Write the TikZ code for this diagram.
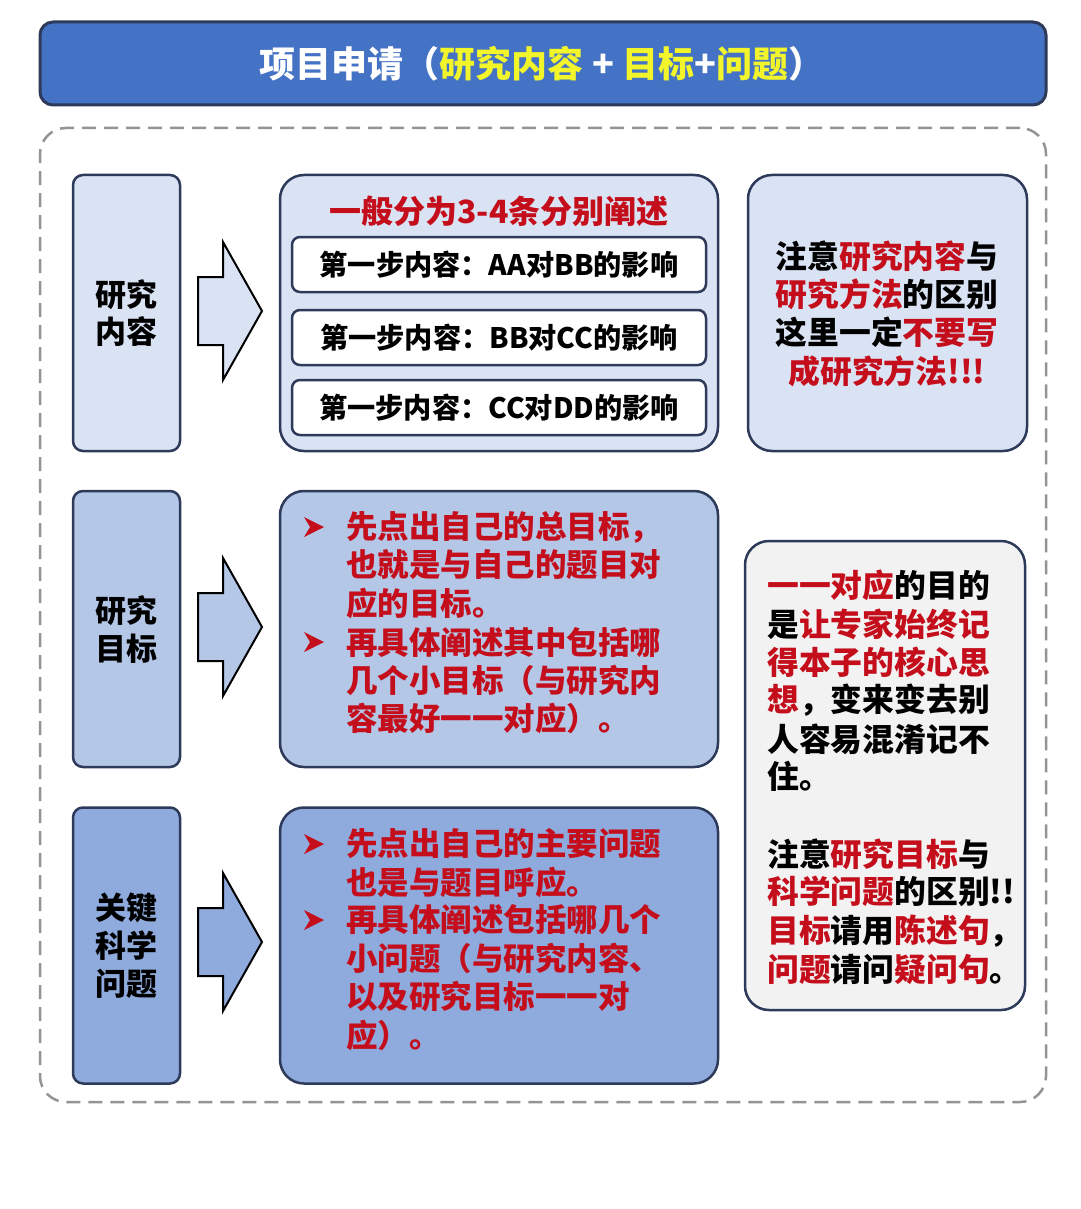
\documentclass[tikz,border=0pt]{standalone}
\usepackage{fontspec}
\setmainfont{Noto Sans CJK SC}
\definecolor{bordc}{HTML}{2E3A59}
\definecolor{redc}{RGB}{196,14,28}
\definecolor{yel}{HTML}{F2F52A}
\definecolor{titlec}{HTML}{4472C4}
\definecolor{cA}{HTML}{DAE3F3}
\definecolor{cB}{HTML}{B4C7E7}
\definecolor{cC}{HTML}{8FAADC}
\definecolor{cG}{HTML}{F2F2F2}
\newcommand{\R}[1]{\textcolor{redc}{#1}}
\tikzset{
  bd/.style={draw=bordc, line width=2.5pt},
  lbox/.style={bd, rounded corners=10pt, minimum width=107pt, minimum height=276pt, inner sep=0pt},
  mbox/.style={bd, rounded corners=24pt, minimum width=438pt, minimum height=276pt, inner sep=0pt},
  wbox/.style={bd, fill=white, rounded corners=8pt, minimum width=414pt, minimum height=55pt, inner sep=0pt},
  blockarrow/.style={draw=black, line width=2pt, line join=miter},
  tx/.style={inner sep=0pt, font=\fontsize{31}{31}\selectfont\bfseries},
  txr/.style={inner sep=0pt, font=\fontsize{31.8}{31.8}\selectfont\bfseries},
  txm/.style={inner sep=0pt, anchor=west, text=redc, font=\fontsize{31.5}{31.5}\selectfont\bfseries},
  txw/.style={inner sep=0pt, font=\fontsize{28.2}{28.2}\selectfont\bfseries},
  bul/.style={fill=redc}
}
\begin{document}
\begin{tikzpicture}[x=1pt,y=-1pt]
\useasboundingbox (0,0) rectangle (1080,1209);
\fill[white] (0,0) rectangle (1080,1209);

% title bar
\node[draw=bordc, line width=3pt, fill=titlec, rounded corners=13pt, minimum width=1006pt, minimum height=83pt, inner sep=0pt] (title) at (543,63.5) {};
\node[inner sep=0pt, font=\fontsize{36}{36}\selectfont\bfseries, text=white] (titletext) at (542,64)
  {项目申请（\textcolor{yel}{研究内容} + \textcolor{yel}{目标}+\textcolor{yel}{问题}）};

% dashed frame
\node[draw=black!42, line width=2.5pt, dash pattern=on 14pt off 8pt, rounded corners=26pt, minimum width=1006pt, minimum height=974pt, inner sep=0pt] (frame) at (543,615) {};

% left boxes
\node[lbox, fill=cA] (L1) at (126.5,313) {};
\node[lbox, fill=cB] (L2) at (126.5,629) {};
\node[lbox, fill=cC] (L3) at (126.5,945.5) {};
\node[tx] (L1a) at (126,295) {研究};
\node[tx] (L1b) at (126,332) {内容};
\node[tx] (L2a) at (126,611) {研究};
\node[tx] (L2b) at (126,649) {目标};
\node[tx] (L3a) at (126,908) {关键};
\node[tx] (L3b) at (126,946) {科学};
\node[tx] (L3c) at (126,984) {问题};

% block arrows
\foreach \cy/\col in {311/cA, 627/cB, 942/cC}{
  \filldraw[blockarrow, fill=\col] (198,\cy-34) -- (223,\cy-34) -- (223,\cy-69) -- (262,\cy)
     -- (223,\cy+69) -- (223,\cy+34) -- (198,\cy+34) -- cycle;
}

% middle boxes
\node[mbox, fill=cA] (M1) at (499,313) {};
\node[mbox, fill=cB] (M2) at (499,629) {};
\node[mbox, fill=cC] (M3) at (499,945.5) {};

% row 1 content
\node[inner sep=0pt, text=redc, font=\fontsize{32}{32}\selectfont\bfseries] (M1h) at (499,211) {一般分为3-4条分别阐述};
\node[wbox] (W1) at (499,264.5) {};
\node[wbox] (W2) at (499,337.5) {};
\node[wbox] (W3) at (499,407.5) {};
\node[txw] (W1t) at (499,265) {第一步内容：AA对BB的影响};
\node[txw] (W2t) at (499,338) {第一步内容：BB对CC的影响};
\node[txw] (W3t) at (499,408) {第一步内容：CC对DD的影响};

% bullets
\foreach \cy in {527,642,844,920}{
  \fill[bul] (304,\cy-10) -- (324,\cy) -- (304,\cy+10) -- (310,\cy) -- cycle;
}

% row 2 content
\node[txm] (M2a) at (346,527) {先点出自己的总目标，};
\node[txm] (M2b) at (346,565) {也就是与自己的题目对};
\node[txm] (M2c) at (346,603) {应的目标。};
\node[txm] (M2d) at (346,642) {再具体阐述其中包括哪};
\node[txm] (M2e) at (346,680) {几个小目标（与研究内};
\node[txm] (M2f) at (346,718) {容最好一一对应）。};

% row 3 content
\node[txm] (M3a) at (346,844) {先点出自己的主要问题};
\node[txm] (M3b) at (346,882) {也是与题目呼应。};
\node[txm] (M3c) at (346,920) {再具体阐述包括哪几个};
\node[txm] (M3d) at (346,958) {小问题（与研究内容、};
\node[txm] (M3e) at (346,996) {以及研究目标一一对};
\node[txm] (M3f) at (346,1035) {应）。};

% right boxes
\node[bd, fill=cA, rounded corners=24pt, minimum width=279pt, minimum height=276pt, inner sep=0pt] (R1) at (887.5,313) {};
\node[bd, fill=cG, rounded corners=24pt, minimum width=280pt, minimum height=469pt, inner sep=0pt] (R2) at (885,775.5) {};

\node[txr] (R1a) at (887,256) {注意\R{研究内容}与};
\node[txr] (R1b) at (887,294) {\R{研究方法}的区别};
\node[txr] (R1c) at (887,332) {这里一定\R{不要写}};
\node[txr] (R1d) at (887,371) {\R{成研究方法!!!}};

\node[txr, anchor=west] (R2a) at (767,585) {\R{一一对应}的目的};
\node[txr, anchor=west] (R2b) at (767,624) {是\R{让专家始终记}};
\node[txr, anchor=west] (R2c) at (767,662) {\R{得本子的核心思}};
\node[txr, anchor=west] (R2d) at (767,700) {\R{想}，变来变去别};
\node[txr, anchor=west] (R2e) at (767,739) {人容易混淆记不};
\node[txr, anchor=west] (R2f) at (767,776) {住。};
\node[txr, anchor=west] (R2g) at (767,854) {注意\R{研究目标}与};
\node[txr, anchor=west] (R2h) at (767,891) {\R{科学问题}的区别!!};
\node[txr, anchor=west] (R2i) at (767,931) {\R{目标}请用\R{陈述句}，};
\node[txr, anchor=west] (R2j) at (767,969) {\R{问题}请问\R{疑问句}。};
\end{tikzpicture}
\end{document}
